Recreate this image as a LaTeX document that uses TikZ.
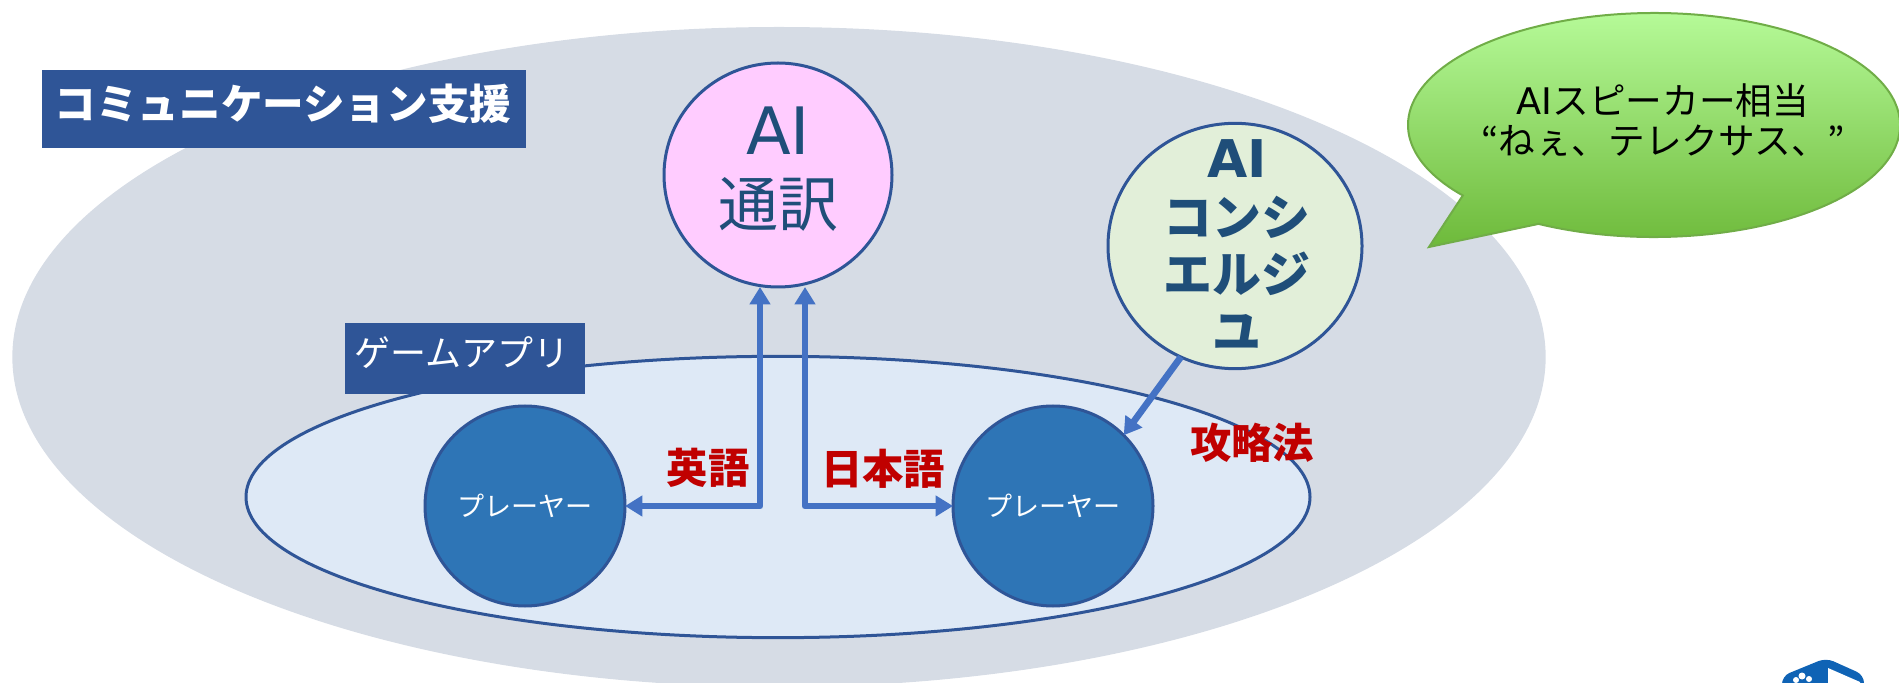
\documentclass[tikz,border=0pt]{standalone}
\usepackage{fontspec}
\usetikzlibrary{shapes.geometric,arrows.meta}
\setmainfont{Noto Sans CJK JP}
\newfontfamily\latinf{DejaVu Sans}
\definecolor{bigfill}{HTML}{D6DCE5}
\definecolor{gamefill}{HTML}{DEE9F6}
\definecolor{navy}{HTML}{2F5597}
\definecolor{playerfill}{HTML}{2E75B6}
\definecolor{aifill}{HTML}{FFCCFF}
\definecolor{concfill}{HTML}{E2EFD9}
\definecolor{deepblue}{HTML}{1F4E79}
\definecolor{arrowblue}{HTML}{4472C4}
\definecolor{redlab}{HTML}{C00000}
\definecolor{calltop}{HTML}{BAFE9E}
\definecolor{callbot}{HTML}{6CB838}
\definecolor{callline}{HTML}{70AD47}
\definecolor{logoblue}{HTML}{0F63B5}
\tikzset{
  oval/.style={ellipse,inner sep=0pt,outer sep=0pt,align=center},
  labelbox/.style={fill=navy,inner sep=0pt,outer sep=0pt},
  plain/.style={inner sep=0pt,outer sep=0pt,align=center},
  playernode/.style={oval,draw=navy,line width=2.25pt,fill=playerfill,text=white,
    minimum width=150pt,minimum height=150pt,font=\fontsize{20.3}{24}\selectfont},
  link/.style={draw=arrowblue,line width=5pt,line join=round},
  twoway/.style={link,{Triangle[length=13pt,width=15pt]}-{Triangle[length=13pt,width=15pt]}},
  oneway/.style={link,-{Triangle[length=13pt,width=15pt]}},
  redlabel/.style={plain,text=redlab,font=\fontsize{31}{34}\selectfont\bfseries}
}
\begin{document}
\begin{tikzpicture}[x=0.75pt,y=0.75pt]
\useasboundingbox (0,0) rectangle (1899,682);
\begin{scope}
\clip (0,0) rectangle (1899,682);
\node[oval,fill=bigfill,minimum width=1150pt,minimum height=495pt] (big) at (779,325) {};
\path[top color=calltop,bottom color=callbot,draw=callline,line width=1.5pt]
  (1538.5,458.1) arc[start angle=-118,end angle=219,x radius=184.5pt,y radius=84pt] -- (1429,435) -- cycle;
\fill[logoblue,rounded corners=6pt] (1782,-10) -- (1782,6) -- (1826,24) -- (1864,7) -- (1864,-10) -- cycle;
\fill[white] (1828,14) -- (1860,0) -- (1860,-5) -- (1828,-5) -- cycle;
\fill[white] (1796,2) circle (3) (1802,6) circle (3.5) (1809,3) circle (3);
\end{scope}
\node[oval,fill=gamefill,draw=navy,line width=2.25pt,minimum width=798pt,minimum height=211pt] (game) at (778,185) {};
\node[labelbox,minimum width=363pt,minimum height=58.5pt] (title) at (284,573) {};
\node[plain,text=white,font=\fontsize{31.2}{36}\selectfont\bfseries] (titletext) at (283,578) {コミュニケーション支援};
\node[labelbox,minimum width=180pt,minimum height=53pt] (gameapp) at (465,323.5) {};
\node[plain,text=white,font=\fontsize{27}{32}\selectfont] (gameapptext) at (462,329) {ゲームアプリ};
\node[oval,fill=aifill,draw=navy,line width=2.25pt,minimum width=171pt,minimum height=168pt] (ai) at (778,507) {};
\node[plain,text=deepblue,font=\fontsize{45}{54}\selectfont] (aitext) at (778,513) {{\latinf\fontsize{49}{54}\selectfont AI}\\通訳};
\node[oval,fill=concfill,draw=navy,line width=2.25pt,minimum width=190.5pt,minimum height=184pt] (conc) at (1235,436) {};
\node[plain,text=deepblue,font=\fontsize{36.7}{43}\selectfont\bfseries] (conctext) at (1237,437) {{\latinf\fontsize{39}{43}\selectfont AI}\\コンシ\\エルジ\\ユ};
\node[playernode] (p1) at (525,176) {\raisebox{1.5pt}{プレーヤー}};
\node[playernode] (p2) at (1053,176) {\raisebox{1.5pt}{プレーヤー}};
\coordinate (a1) at (760,395);
\coordinate (a2) at (805,395);
\draw[twoway] (a1) |- (p1.east);
\draw[twoway] (a2) |- (p2.west);
\draw[oneway] (conc.-116) -- (p2.45);
\node[redlabel] (en) at (708,214) {英語};
\node[redlabel] (ja) at (883,213) {日本語};
\node[redlabel] (tips) at (1252,239) {攻略法};
\node[plain,text=black,font=\fontsize{27.5}{29.5}\selectfont] (calltext) at (1663,562) {{\latinf AI}スピーカー相当\\“ねぇ、テレクサス、”};
\end{tikzpicture}
\end{document}
